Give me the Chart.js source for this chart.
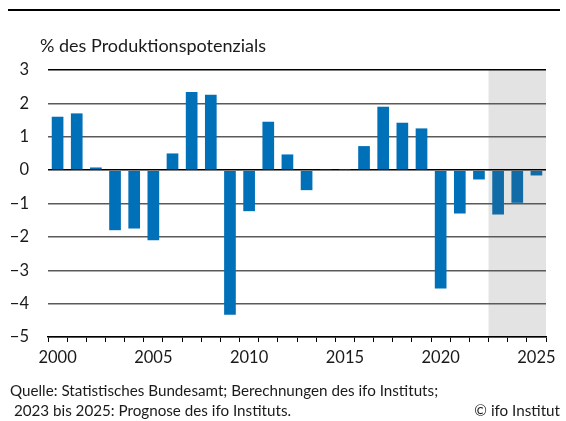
<!DOCTYPE html>
<html lang="de">
<head>
<meta charset="utf-8">
<title>Produktionslücke</title>
<script src="https://cdn.jsdelivr.net/npm/chart.js@4/dist/chart.umd.min.js"></script>
<style>
  html, body { margin: 0; padding: 0; background: #fff; }
  #wrap { width: 566px; height: 421px; position: relative; }
</style>
</head>
<body>
<div id="wrap"><canvas id="c" width="566" height="421"></canvas></div>
<script>
// Jahre (Kategorien)
const years = ['2000','2001','2002','2003','2004','2005','2006','2007','2008','2009',
               '2010','2011','2012','2013','2014','2015','2016','2017','2018','2019',
               '2020','2021','2022','2023','2024','2025'];
// Produktionslücke in % des Produktionspotenzials
const gap = [1.6, 1.7, 0.08, -1.8, -1.75, -2.1, 0.5, 2.34, 2.26, -4.33,
             -1.23, 1.45, 0.47, -0.6, 0.03, 0.01, 0.72, 1.9, 1.42, 1.25,
             -3.55, -1.3, -0.28, -1.33, -0.98, -0.16];
// erstes Prognosejahr
const forecastStart = '2023';
// Achsenbeschriftungen
const yTitle = '% des Produktionspotenzials';
const sourceLines = ['Quelle: Statistisches Bundesamt; Berechnungen des ifo Instituts;',
                     ' 2023 bis 2025: Prognose des ifo Instituts.'];
const copyright = '© ifo Institut';

const FONT = 'Lato, "Source Sans Pro", "Noto Sans", sans-serif';
const fcIdx = years.indexOf(forecastStart);

const decor = {
  id: 'decor',
  beforeDraw(chart) {
    const { ctx, chartArea: a, scales: { x } } = chart;
    // Prognosezeitraum grau hinterlegen
    const half = (x.getPixelForValue(1) - x.getPixelForValue(0)) / 2;
    const x0 = x.getPixelForValue(fcIdx) - half;
    ctx.save();
    ctx.fillStyle = '#e3e3e3';
    ctx.fillRect(x0, a.top, a.right - x0, a.bottom - a.top);
    ctx.restore();
  },
  afterDraw(chart) {
    const { ctx } = chart;
    ctx.save();
    // Linie oben
    ctx.strokeStyle = '#000';
    ctx.lineWidth = 2;
    ctx.beginPath();
    ctx.moveTo(8, 10);
    ctx.lineTo(560, 10);
    ctx.stroke();
    // Einheit
    ctx.fillStyle = '#1a1a1a';
    ctx.textBaseline = 'middle';
    ctx.font = '18px ' + FONT;
    ctx.textAlign = 'left';
    ctx.fillText(yTitle, 40, 46);
    // Quelle
    ctx.font = '15.2px ' + FONT;
    ctx.fillText(sourceLines[0], 10, 391);
    ctx.fillText(sourceLines[1], 10, 411);
    ctx.textAlign = 'right';
    ctx.fillText(copyright, 560, 411);
    ctx.restore();
  }
};

new Chart(document.getElementById('c'), {
  type: 'bar',
  data: {
    labels: years,
    datasets: [{
      data: gap,
      backgroundColor: years.map((_, i) => i >= fcIdx ? '#116ba6' : '#0070b8'),
      borderWidth: 0,
      barPercentage: 0.61,
      categoryPercentage: 1.0
    }]
  },
  options: {
    responsive: false,
    animation: false,
    layout: { padding: { left: 0, right: 20, top: 70, bottom: 0 } },
    plugins: { legend: { display: false }, tooltip: { enabled: false } },
    scales: {
      x: {
        grid: {
          offset: true,
          drawOnChartArea: false,
          drawTicks: true,
          tickLength: 5,
          color: '#000',
          lineWidth: 1
        },
        border: { display: true, color: '#000', width: 1.5 },
        ticks: {
          autoSkip: false,
          maxRotation: 0,
          padding: 6,
          color: '#1a1a1a',
          font: { family: FONT, size: 16.5 },
          callback: function (v, i) {
            const y = years[i];
            return (+y) % 5 === 0 ? y : '';
          }
        },
        afterFit(scale) { scale.height = 84; }
      },
      y: {
        min: -5,
        max: 3,
        border: { display: false },
        grid: {
          drawTicks: false,
          color: c => (c.tick.value === 0 || c.tick.value === 3) ? '#000' : '#5a5a5a',
          lineWidth: 1.5
        },
        ticks: {
          stepSize: 1,
          padding: 19,
          color: '#1a1a1a',
          font: { family: FONT, size: 16.5 },
          callback: v => (v < 0 ? '\u2212' + Math.abs(v) : String(v))
        },
        afterFit(scale) { scale.width = 48; }
      }
    }
  },
  plugins: [decor]
});
</script>
</body>
</html>
